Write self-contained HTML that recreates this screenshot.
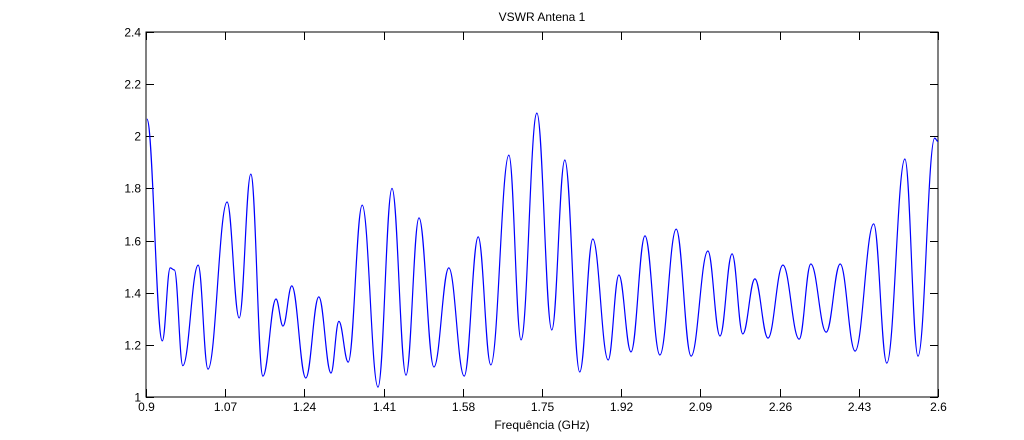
<!DOCTYPE html>
<html><head><meta charset="utf-8"><style>
body{margin:0;background:#fff;}
svg text{font-family:"Liberation Sans",Arial,sans-serif;font-size:12px;fill:#000;}
</style></head><body>
<svg id="chart" width="1024" height="435" viewBox="0 0 1024 435" xmlns="http://www.w3.org/2000/svg">
<rect width="1024" height="435" fill="#fff"/>
<g id="axes"></g>
<g id="plot"></g>
<text x="542" y="21" text-anchor="middle">VSWR Antena 1</text>
<text x="542" y="429" text-anchor="middle">Frequência (GHz)</text>
</svg>
<script>
const freqs=[0.902,0.935,0.952,0.961,0.979,1.012,1.033,1.074,1.1,1.125,1.151,1.179,1.194,1.213,1.243,1.271,1.297,1.314,1.334,1.364,1.398,1.428,1.458,1.486,1.518,1.55,1.583,1.613,1.64,1.679,1.705,1.739,1.771,1.799,1.831,1.859,1.892,1.915,1.941,1.971,2.003,2.038,2.07,2.106,2.132,2.158,2.181,2.207,2.235,2.267,2.302,2.327,2.36,2.39,2.422,2.462,2.49,2.529,2.557,2.593,2.6];
const vswr=[2.066,1.215,1.495,1.487,1.12,1.506,1.107,1.748,1.303,1.855,1.08,1.376,1.272,1.426,1.073,1.384,1.092,1.29,1.134,1.736,1.038,1.80,1.084,1.687,1.115,1.495,1.08,1.614,1.123,1.928,1.219,2.089,1.257,1.909,1.096,1.606,1.142,1.468,1.173,1.618,1.161,1.644,1.157,1.56,1.234,1.549,1.242,1.453,1.226,1.506,1.222,1.51,1.249,1.51,1.176,1.664,1.13,1.913,1.157,1.993,1.98];
const xTicks=[0.9,1.07,1.24,1.41,1.58,1.75,1.92,2.09,2.26,2.43,2.6];
const yTicks=[1,1.2,1.4,1.6,1.8,2,2.2,2.4];
const yTickLabels=["1","1.2","1.4","1.6","1.8","2","2.2","2.4"];
const L=146,R=938,T=32,B=397;
const xs=f=>L+(f-0.9)/1.7*(R-L);
const ys=v=>B-(v-1)/1.4*(B-T);
const NS="http://www.w3.org/2000/svg";
const ax=document.getElementById('axes'),pl=document.getElementById('plot');
function mk(tag,attrs,parent){const e=document.createElementNS(NS,tag);for(const k in attrs)e.setAttribute(k,attrs[k]);parent.appendChild(e);return e;}
const box=mk('rect',{x:L,y:T,width:R-L,height:B-T,fill:'none',stroke:'#000','stroke-width':1},ax);


xTicks.forEach(t=>{const x=Math.round(xs(t))+0.5;
 mk('line',{x1:x,y1:B,x2:x,y2:B-8,stroke:'#000'},ax);
 mk('line',{x1:x,y1:T,x2:x,y2:T+8,stroke:'#000'},ax);
 const tx=mk('text',{x:x,y:B+14,'text-anchor':'middle'},ax);tx.textContent=t.toString();
 
 
});
yTicks.forEach((t,i)=>{const y=Math.round(ys(t))+0.5;
 mk('line',{x1:L,y1:y,x2:L+8,y2:y,stroke:'#000'},ax);
 mk('line',{x1:R,y1:y,x2:R-8,y2:y,stroke:'#000'},ax);
 const tx=mk('text',{x:L-5,y:y+4,'text-anchor':'end'},ax);tx.textContent=yTickLabels[i];
 
 
});
let d='M'+xs(freqs[0]).toFixed(1)+','+ys(vswr[0]).toFixed(1);
for(let i=1;i<freqs.length;i++){
 const x0=xs(freqs[i-1]),y0=ys(vswr[i-1]),x1=xs(freqs[i]),y1=ys(vswr[i]);
 const k=(x1-x0)*0.4;
 d+='C'+(x0+k).toFixed(1)+','+y0.toFixed(1)+' '+(x1-k).toFixed(1)+','+y1.toFixed(1)+' '+x1.toFixed(1)+','+y1.toFixed(1);
}
const line=mk('path',{d:d,fill:'none',stroke:'#0000ff','stroke-width':1.2,'stroke-linejoin':'round'},pl);


</script>
</body></html>
